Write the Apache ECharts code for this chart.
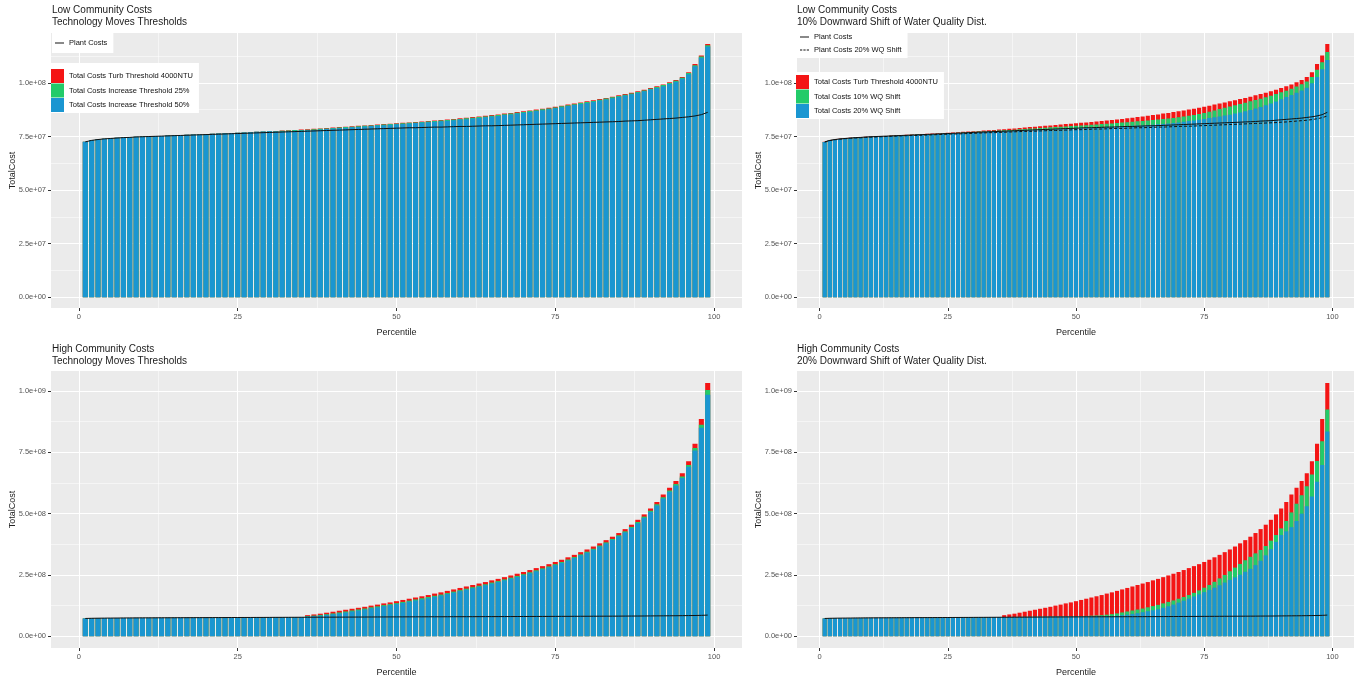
<!DOCTYPE html>
<html><head><meta charset="utf-8">
<script src="https://cdn.jsdelivr.net/npm/echarts@6/dist/echarts.min.js"></script>
<style>html,body{margin:0;padding:0;background:#fff}#c{width:1354px;height:677px}</style>
</head><body><div id="c"></div>
<script>
// ---------------- DATA (cost values in millions of $) ----------------
const percentiles = [1,2,3,4,5,6,7,8,9,10,11,12,13,14,15,16,17,18,19,20,21,22,23,24,25,26,27,28,29,30,31,32,33,34,35,36,37,38,39,40,41,42,43,44,45,46,47,48,49,50,51,52,53,54,55,56,57,58,59,60,61,62,63,64,65,66,67,68,69,70,71,72,73,74,75,76,77,78,79,80,81,82,83,84,85,86,87,88,89,90,91,92,93,94,95,96,97,98,99];

const plantCosts = [72.5,73.2,73.6,73.9,74.1,74.3,74.5,74.6,74.8,74.9,
75.0,75.1,75.2,75.3,75.4,75.5,75.6,75.7,75.8,75.9,
76.0,76.1,76.2,76.3,76.4,76.5,76.6,76.7,76.8,76.9,
77.0,77.1,77.2,77.3,77.4,77.5,77.6,77.7,77.8,77.9,
78.0,78.1,78.2,78.3,78.4,78.5,78.6,78.7,78.8,78.9,
79.0,79.1,79.1,79.2,79.3,79.4,79.4,79.5,79.6,79.7,
79.7,79.8,79.9,80.0,80.0,80.1,80.2,80.3,80.4,80.5,
80.6,80.7,80.8,80.9,81.0,81.1,81.2,81.3,81.4,81.5,
81.6,81.7,81.8,81.9,82.0,82.2,82.3,82.4,82.6,82.8,
83.0,83.2,83.4,83.6,83.9,84.2,84.6,85.2,86.3];

const plantCostsWQ20 = [72.4,73.1,73.5,73.8,74.0,74.2,74.3,74.4,74.6,74.7,
74.8,74.9,75.0,75.1,75.2,75.3,75.4,75.5,75.5,75.6,
75.7,75.8,75.9,76.0,76.1,76.2,76.2,76.3,76.4,76.5,
76.6,76.7,76.8,76.8,76.9,77.0,77.1,77.2,77.3,77.4,
77.4,77.5,77.6,77.7,77.8,77.8,77.9,78.0,78.1,78.2,
78.2,78.3,78.4,78.5,78.5,78.6,78.7,78.8,78.8,78.9,
79.0,79.1,79.1,79.2,79.3,79.4,79.4,79.5,79.6,79.7,
79.8,79.8,79.9,80.0,80.1,80.2,80.3,80.4,80.5,80.6,
80.7,80.8,80.9,81.0,81.1,81.2,81.3,81.4,81.5,81.7,
81.8,82.0,82.2,82.4,82.6,82.9,83.3,83.8,84.6];

// Low community costs
const lowTurb4000 = [72.6,73.3,73.7,74.0,74.2,74.4,74.6,74.7,74.9,75.0,
75.1,75.2,75.3,75.5,75.6,75.7,75.8,75.9,76.0,76.1,
76.3,76.4,76.5,76.6,76.8,76.9,77.0,77.2,77.3,77.5,
77.6,77.8,77.9,78.1,78.3,78.4,78.6,78.8,79.0,79.2,
79.4,79.6,79.8,80.0,80.2,80.4,80.6,80.8,81.0,81.2,
81.4,81.6,81.8,82.0,82.2,82.5,82.7,83.0,83.2,83.5,
83.8,84.1,84.4,84.7,85.0,85.3,85.7,86.0,86.4,86.8,
87.2,87.6,88.0,88.4,88.9,89.4,89.9,90.4,90.9,91.4,
91.9,92.5,93.0,93.6,94.2,94.8,95.4,96.1,96.8,97.6,
98.4,99.3,100.3,101.4,102.8,105.0,108.8,112.8,118.2];

const lowInc25 = [72.6,73.3,73.7,74.0,74.2,74.4,74.6,74.7,74.9,75.0,
75.1,75.2,75.3,75.5,75.6,75.7,75.8,75.9,76.0,76.1,
76.3,76.4,76.5,76.6,76.8,76.9,77.0,77.2,77.3,77.5,
77.5,77.7,77.8,78.0,78.1,78.2,78.4,78.6,78.8,79.0,
79.2,79.4,79.6,79.8,80.0,80.2,80.4,80.6,80.8,81.0,
81.2,81.4,81.6,81.8,82.0,82.3,82.5,82.7,82.9,83.2,
83.5,83.8,84.1,84.4,84.7,85.0,85.4,85.7,86.1,86.5,
86.9,87.3,87.7,88.1,88.6,89.1,89.6,90.1,90.6,91.1,
91.6,92.2,92.7,93.3,93.9,94.5,95.1,95.8,96.5,97.3,
98.1,99.0,100.0,101.0,102.4,104.6,108.3,112.3,117.6];

const lowInc50 = [72.6,73.3,73.7,74.0,74.2,74.4,74.6,74.7,74.9,75.0,
75.1,75.2,75.3,75.5,75.6,75.7,75.8,75.9,76.0,76.1,
76.3,76.4,76.5,76.6,76.8,76.9,77.0,77.2,77.3,77.5,
77.3,77.4,77.5,77.7,77.8,77.9,78.1,78.3,78.5,78.7,
78.9,79.1,79.3,79.5,79.7,79.9,80.1,80.3,80.5,80.7,
80.9,81.1,81.3,81.5,81.7,81.9,82.1,82.4,82.6,82.9,
83.1,83.4,83.7,84.0,84.3,84.6,85.0,85.3,85.7,86.1,
86.5,86.9,87.3,87.7,88.2,88.7,89.2,89.7,90.2,90.7,
91.2,91.8,92.3,92.9,93.5,94.1,94.7,95.4,96.1,96.9,
97.6,98.5,99.5,100.5,101.9,104.0,107.8,111.8,117.0];

const lowWQ10 = [72.5,73.2,73.6,73.9,74.1,74.3,74.5,74.6,74.8,74.9,
75.0,75.1,75.2,75.4,75.5,75.6,75.7,75.8,75.9,76.0,
76.1,76.2,76.3,76.4,76.6,76.7,76.8,76.9,77.0,77.2,
77.3,77.4,77.5,77.7,77.8,77.9,78.1,78.2,78.4,78.5,
78.7,78.8,79.0,79.1,79.3,79.4,79.6,79.7,79.9,80.0,
80.2,80.3,80.5,80.6,80.8,81.0,81.1,81.3,81.5,81.7,
81.9,82.1,82.3,82.5,82.7,82.9,83.2,83.4,83.7,84.0,
84.3,84.7,85.1,85.5,86.0,86.6,87.2,87.8,88.4,89.0,
89.6,90.2,90.8,91.4,92.0,92.6,93.3,94.0,94.8,95.6,
96.4,97.3,98.3,99.4,100.7,102.8,106.2,109.6,114.4];

const lowWQ20 = [72.5,73.2,73.6,73.9,74.1,74.3,74.5,74.6,74.8,74.9,
75.0,75.1,75.2,75.3,75.4,75.5,75.6,75.7,75.8,75.9,
76.0,76.1,76.2,76.3,76.4,76.5,76.6,76.7,76.8,76.9,
77.0,77.1,77.2,77.3,77.4,77.5,77.6,77.7,77.8,77.9,
78.0,78.1,78.2,78.3,78.4,78.5,78.6,78.7,78.8,78.9,
79.0,79.1,79.2,79.3,79.4,79.5,79.6,79.7,79.8,79.9,
80.0,80.1,80.2,80.4,80.5,80.7,80.9,81.1,81.3,81.6,
81.9,82.2,82.5,82.8,83.2,83.6,84.0,84.4,84.8,85.2,
85.7,86.2,86.8,87.4,88.1,88.8,89.6,90.4,91.3,92.4,
93.4,94.4,95.4,96.5,97.8,99.8,102.8,106.4,110.7];

// High community costs
const highTurb4000 = [72.6,73.3,73.7,74.0,74.2,74.4,74.6,74.7,74.9,75.0,
75.1,75.2,75.3,75.5,75.6,75.7,75.8,75.9,76.0,76.1,
76.3,76.4,76.5,76.6,76.8,76.9,77.0,77.2,77.3,77.5,
77.6,77.8,77.9,78.1,78.3,86,89,92,96,100,
104,108,112,116,120,125,129,134,138,143,
148,153,158,163,168,174,179,185,191,197,
203,209,215,221,228,234,241,248,255,262,
270,278,286,294,303,312,322,332,343,354,
366,379,392,406,421,437,455,475,497,521,
548,578,606,633,665,714,785,886,1033];

const highInc25 = [72.6,73.3,73.7,74.0,74.2,74.4,74.6,74.7,74.9,75.0,
75.1,75.2,75.3,75.5,75.6,75.7,75.8,75.9,76.0,76.1,
76.3,76.4,76.5,76.6,76.8,76.9,77.0,77.2,77.3,77.5,
77.6,77.8,77.9,78.1,78.3,82,84,87,90,93,
97,101,105,109,113,118,122,127,131,135,
140,145,150,155,160,165,170,176,182,188,
194,200,206,212,219,225,232,239,246,253,
261,269,277,285,294,303,313,323,334,345,
357,370,383,397,412,428,446,466,488,512,
538,567,595,621,652,699,768,863,1004];

const highInc50 = [72.6,73.3,73.7,74.0,74.2,74.4,74.6,74.7,74.9,75.0,
75.1,75.2,75.3,75.5,75.6,75.7,75.8,75.9,76.0,76.1,
76.3,76.4,76.5,76.6,76.8,76.9,77.0,77.2,77.3,77.5,
77.6,77.8,77.9,78.1,78.3,80,82,84,87,90,
93,97,101,105,109,114,118,123,127,131,
136,141,146,150,155,161,166,172,178,184,
190,196,202,208,215,221,228,235,242,249,
257,265,273,281,290,299,309,319,330,341,
353,366,379,393,408,424,442,461,483,507,
533,562,589,615,645,691,758,851,985];

const highWQ10 = [72.6,73.3,73.7,74.0,74.2,74.4,74.6,74.7,74.9,75.0,
75.1,75.2,75.3,75.5,75.6,75.7,75.8,75.9,76.0,76.1,
76.3,76.4,76.5,76.6,76.8,76.9,77.0,77.2,77.3,77.5,
77.6,77.8,77.9,78.1,78.3,78.4,78.6,78.8,79.0,79.2,
79.4,79.6,79.8,80.0,80.2,80.4,80.6,80.8,81.0,81.5,
82,83,84,85,86,88,90,93,97,101,
105,109,113,118,123,128,134,140,146,153,
160,168,177,187,198,209,222,236,250,265,
280,295,310,324,338,352,368,390,413,440,
470,505,540,575,612,660,715,795,925];

const highWQ20 = [72.6,73.3,73.7,74.0,74.2,74.4,74.6,74.7,74.9,75.0,
75.1,75.2,75.3,75.5,75.6,75.7,75.8,75.9,76.0,76.1,
76.3,76.4,76.5,76.6,76.8,76.9,77.0,77.2,77.3,77.5,
77.6,77.8,77.9,78.1,78.3,78.4,78.6,78.8,79.0,79.2,
79.4,79.6,79.8,80.0,80.2,80.4,80.6,80.7,80.8,80.9,
81.0,81.1,81.2,81.3,81.4,81.6,82.0,84,86,88,
91,94,98,102,106,110,116,122,129,137,
145,153,162,171,180,189,198,208,219,230,
240,251,263,275,290,308,330,355,385,413,
428,445,470,500,530,570,630,699,835];

// Ticks
const xMajorTicks = [0,25,50,75,100];
const xMinorTicks = [12.5,37.5,62.5,87.5];
const yMajorTicksLow = [0,25e6,50e6,75e6,100e6];
const yTickLabelsLow = ['0.0e+00','2.5e+07','5.0e+07','7.5e+07','1.0e+08'];
const yMinorTicksLow = [12.5e6,37.5e6,62.5e6,87.5e6,112.5e6];
const yMajorTicksHigh = [0,250e6,500e6,750e6,1000e6];
const yTickLabelsHigh = ['0.0e+00','2.5e+08','5.0e+08','7.5e+08','1.0e+09'];
const yMinorTicksHigh = [125e6,375e6,625e6,875e6];

// ---------------- STYLE / LAYOUT ----------------
const FONT = "'Liberation Sans', Arial, sans-serif";
const RED = '#f41515', GREEN = '#22cb69', BLUE = '#1a96d1', LINE = '#111111';
const UNIT = 1e6;
const toPairs = vals => percentiles.map((p, k) => [p, vals[k] * UNIT]);

const N_TURB = 'Total Costs Turb Threshold 4000NTU';
const N_INC25 = 'Total Costs Increase Threshold 25%';
const N_INC50 = 'Total Costs Increase Threshold 50%';
const N_WQ10 = 'Total Costs 10% WQ Shift';
const N_WQ20 = 'Total Costs 20% WQ Shift';
const N_PLANT = 'Plant Costs';
const N_PLANT20 = 'Plant Costs 20% WQ Shift';

const panels = [
  {grid:{left:51, top:33, width:691, height:275}, yRange:[-5e6, 1.233e8],
   yTicks:yMajorTicksLow, yLabels:yTickLabelsLow, yMinor:yMinorTicksLow,
   title:'Low Community Costs\nTechnology Moves Thresholds', tl:52, tt:4,
   bars:[[N_TURB, lowTurb4000, RED],[N_INC25, lowInc25, GREEN],[N_INC50, lowInc50, BLUE]],
   lines:[[N_PLANT, plantCosts, false]]},
  {grid:{left:797, top:33, width:558, height:275}, yRange:[-5e6, 1.233e8],
   yTicks:yMajorTicksLow, yLabels:yTickLabelsLow, yMinor:yMinorTicksLow,
   title:'Low Community Costs\n10% Downward Shift of Water Quality Dist.', tl:797, tt:4,
   bars:[[N_TURB, lowTurb4000, RED],[N_WQ10, lowWQ10, GREEN],[N_WQ20, lowWQ20, BLUE]],
   lines:[[N_PLANT, plantCosts, false],[N_PLANT20, plantCostsWQ20, true]]},
  {grid:{left:51, top:371, width:691, height:277}, yRange:[-4.8e7, 1.082e9],
   yTicks:yMajorTicksHigh, yLabels:yTickLabelsHigh, yMinor:yMinorTicksHigh,
   title:'High Community Costs\nTechnology Moves Thresholds', tl:52, tt:343,
   bars:[[N_TURB, highTurb4000, RED],[N_INC25, highInc25, GREEN],[N_INC50, highInc50, BLUE]],
   lines:[[N_PLANT, plantCosts, false]]},
  {grid:{left:797, top:371, width:558, height:277}, yRange:[-4.8e7, 1.082e9],
   yTicks:yMajorTicksHigh, yLabels:yTickLabelsHigh, yMinor:yMinorTicksHigh,
   title:'High Community Costs\n20% Downward Shift of Water Quality Dist.', tl:797, tt:343,
   bars:[[N_TURB, highTurb4000, RED],[N_WQ10, highWQ10, GREEN],[N_WQ20, highWQ20, BLUE]],
   lines:[[N_PLANT, plantCosts, false]]}
];

const grids = [], xAxes = [], yAxes = [], series = [], titles = [];
panels.forEach((P, i) => {
  grids.push(Object.assign({show:true, backgroundColor:'#EBEBEB', borderWidth:0, containLabel:false, outerBoundsMode:'none'}, P.grid));
  titles.push({text:P.title, left:P.tl, top:P.tt, padding:0,
    textStyle:{fontSize:10, lineHeight:12, fontWeight:'normal', color:'#1a1a1a', fontFamily:FONT}});
  // x major + minor
  xAxes.push({type:'value', gridIndex:i, min:-4.4, max:104.4, position:'bottom',
    axisLine:{show:false, onZero:false},
    axisTick:{show:true, length:3, customValues:xMajorTicks, lineStyle:{color:'#333', width:1}},
    axisLabel:{customValues:xMajorTicks, margin:5, fontSize:7.5, color:'#555', fontFamily:FONT},
    splitLine:{show:true, lineStyle:{color:'#ffffff', width:1}},
    name:'Percentile', nameLocation:'middle', nameGap:20, nameMoveOverlap:false,
    nameTextStyle:{fontSize:9, color:'#222', fontFamily:FONT}});
  xAxes.push({type:'value', gridIndex:i, min:-4.4, max:104.4, position:'top',
    axisLine:{show:false, onZero:false}, axisTick:{show:false, customValues:xMinorTicks},
    axisLabel:{show:false}, splitLine:{show:true, lineStyle:{color:'#ffffff', width:0.5}}});
  // y major + minor
  const ticks = P.yTicks, labels = P.yLabels;
  yAxes.push({type:'value', gridIndex:i, min:P.yRange[0], max:P.yRange[1], position:'left',
    axisLine:{show:false, onZero:false},
    axisTick:{show:true, length:3, customValues:ticks, lineStyle:{color:'#333', width:1}},
    axisLabel:{customValues:ticks, margin:5, fontSize:7.5, color:'#555', fontFamily:FONT,
      formatter: v => { const k = ticks.findIndex(t => Math.abs(t - v) < 1); return k >= 0 ? labels[k] : ''; }},
    splitLine:{show:true, lineStyle:{color:'#ffffff', width:1}},
    name:'TotalCost', nameLocation:'middle', nameGap:34, nameMoveOverlap:false,
    nameTextStyle:{fontSize:9, color:'#222', fontFamily:FONT}});
  yAxes.push({type:'value', gridIndex:i, min:P.yRange[0], max:P.yRange[1], position:'right',
    axisLine:{show:false, onZero:false}, axisTick:{show:false, customValues:P.yMinor},
    axisLabel:{show:false}, splitLine:{show:true, lineStyle:{color:'#ffffff', width:0.5}}});
  P.bars.forEach(([name, vals, color]) => {
    series.push({type:'bar', name, xAxisIndex:2*i, yAxisIndex:2*i, data:toPairs(vals),
      barWidth:'80%', barGap:'-100%', itemStyle:{color}, emphasis:{disabled:true}, silent:true});
  });
  P.lines.forEach(([name, vals, dashed]) => {
    series.push({type:'line', name, xAxisIndex:2*i, yAxisIndex:2*i, data:toPairs(vals),
      symbol:'none', showSymbol:false, itemStyle:{color:LINE},
      lineStyle:{color:LINE, width:1, type: dashed ? [3,2] : 'solid'}, emphasis:{disabled:true}, silent:true, z:3});
  });
});

const ICON_SOLID = 'path://M0,0H20V2.2H0Z';
const ICON_DASH = 'path://M0,0H5V2.2H0Z M7.5,0H12.5V2.2H7.5Z M15,0H20V2.2H15Z';
const legText = {fontSize:7.5, color:'#111', fontFamily:FONT};
const legends = [
  {left:52, top:33, orient:'vertical', padding:[6,6,6,3], itemWidth:9, itemHeight:8, itemGap:5,
   backgroundColor:'#fff', selectedMode:false, textStyle:legText, itemStyle:{borderWidth:0},
   data:[{name:N_PLANT, icon:ICON_SOLID}]},
  {left:51, top:63, orient:'vertical', padding:[6,6,1,0], itemWidth:13, itemHeight:14, itemGap:0.5,
   backgroundColor:'#fff', selectedMode:false, textStyle:legText,
   data:[{name:N_TURB, icon:'rect'},{name:N_INC25, icon:'rect'},{name:N_INC50, icon:'rect'}]},
  {left:797, top:32, orient:'vertical', padding:[1,6,4,3], itemWidth:9, itemHeight:8, itemGap:5,
   backgroundColor:'#fff', selectedMode:false, textStyle:legText, itemStyle:{borderWidth:0},
   data:[{name:N_PLANT, icon:ICON_SOLID},{name:N_PLANT20, icon:ICON_DASH}]},
  {left:796, top:72, orient:'vertical', padding:[3,6,1,0], itemWidth:13, itemHeight:14, itemGap:0.5,
   backgroundColor:'#fff', selectedMode:false, textStyle:legText,
   data:[{name:N_TURB, icon:'rect'},{name:N_WQ10, icon:'rect'},{name:N_WQ20, icon:'rect'}]}
];

const chart = echarts.init(document.getElementById('c'), null, {renderer:'canvas'});
chart.setOption({
  animation:false,
  backgroundColor:'#ffffff',
  title:titles, grid:grids, xAxis:xAxes, yAxis:yAxes, legend:legends, series:series
});
</script>
</body></html>
